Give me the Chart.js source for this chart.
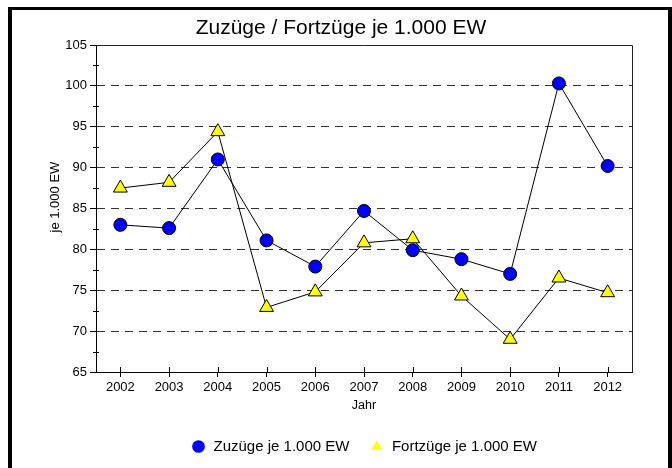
<!DOCTYPE html>
<html>
<head>
<meta charset="utf-8">
<script src="https://cdn.jsdelivr.net/npm/chart.js@4.4.1/dist/chart.umd.min.js"></script>
<style>
  html, body { margin: 0; padding: 0; background: #fff; }
  canvas { display: block; }
</style>
</head>
<body>
<canvas id="chart" width="672" height="468"></canvas>
<script>
const jahre = ['2002', '2003', '2004', '2005', '2006', '2007', '2008', '2009', '2010', '2011', '2012'];
const zuzuege = [83.0, 82.6, 91.0, 81.1, 77.9, 84.7, 79.9, 78.8, 77.0, 100.3, 90.2];
const fortzuege = [87.5, 88.2, 94.4, 72.9, 74.8, 80.8, 81.3, 74.3, 69.0, 76.5, 74.7];
const yTitel = 'je 1.000 EW';
const yMin = 65, yMax = 105, yStep = 5;

Chart.defaults.font.family = "'Liberation Sans', Arial, sans-serif";
Chart.defaults.color = '#000';

// black frame around the picture (open at the bottom)
const rahmen = {
    id: 'rahmen',
    beforeDraw(chart) {
        const c = chart.ctx;
        c.save();
        c.fillStyle = '#000';
        c.fillRect(8, 7, 4, 461);
        c.fillRect(8, 7, 664, 3);
        c.fillRect(668, 7, 4, 461);
        c.restore();
    }
};

// plot box, minor y ticks, upper half of the x ticks, y axis title
const achsen = {
    id: 'achsen',
    beforeDatasetsDraw(chart) {
        const c = chart.ctx;
        const a = chart.chartArea;
        const x = chart.scales.x, y = chart.scales.y;
        c.save();
        c.strokeStyle = '#222';
        c.lineWidth = 1;
        c.beginPath();
        c.moveTo(a.left, Math.round(a.top) + 0.5);
        c.lineTo(Math.round(a.right) + 0.5, Math.round(a.top) + 0.5);
        c.lineTo(Math.round(a.right) + 0.5, a.bottom);
        c.stroke();
        c.strokeStyle = '#000';
        c.beginPath();
        for (let v = yMin + yStep / 2; v < yMax; v += yStep) {
            const py = Math.round(y.getPixelForValue(v)) + 0.5;
            c.moveTo(a.left - 3, py);
            c.lineTo(a.left + 3, py);
        }
        jahre.forEach((j, i) => {
            const px = Math.round(x.getPixelForValue(i)) + 0.5;
            c.moveTo(px, a.bottom - 5);
            c.lineTo(px, a.bottom);
        });
        c.stroke();

        // axis title sits a little above the middle of the axis
        c.translate(y.left + 5, a.top + a.height * 0.465);
        c.rotate(-Math.PI / 2);
        c.fillStyle = '#000';
        c.font = "13px 'Liberation Sans', Arial, sans-serif";
        c.textAlign = 'center';
        c.textBaseline = 'middle';
        c.fillText(yTitel, 0, 0);
        c.restore();
    }
};

new Chart(document.getElementById('chart'), {
    type: 'line',
    data: {
        labels: jahre,
        datasets: [{
            label: 'Zuzüge je 1.000 EW',
            data: zuzuege,
            borderColor: '#000',
            borderWidth: 1,
            tension: 0,
            pointStyle: 'circle',
            pointRadius: 6.5,
            pointHoverRadius: 6.5,
            pointBackgroundColor: '#0000ff',
            pointBorderColor: '#000',
            pointBorderWidth: 1
        }, {
            label: 'Fortzüge je 1.000 EW',
            data: fortzuege,
            borderColor: '#000',
            borderWidth: 1,
            tension: 0,
            pointStyle: 'triangle',
            pointRadius: 8,
            pointHoverRadius: 8,
            pointBackgroundColor: '#ffff00',
            pointBorderColor: '#000',
            pointBorderWidth: 1
        }]
    },
    options: {
        responsive: false,
        animation: false,
        layout: {
            padding: { left: 50, right: 40, top: 0, bottom: 4 }
        },
        scales: {
            x: {
                offset: true,
                afterFit(scale) { scale.height = 47; },
                grid: {
                    offset: false,
                    drawOnChartArea: false,
                    tickLength: 5,
                    tickColor: '#000'
                },
                border: { color: '#000', width: 1 },
                ticks: {
                    padding: 3,
                    maxRotation: 0,
                    font: { size: 13 }
                },
                title: {
                    display: true,
                    text: 'Jahr',
                    font: { size: 12.5 },
                    padding: { top: 0, bottom: 5.5 }
                }
            },
            y: {
                min: yMin,
                max: yMax,
                afterFit(scale) { scale.width = 46; },
                grid: {
                    color: ctx => (ctx.tick && ctx.tick.value % yStep === 0 && ctx.tick.value > yMin && ctx.tick.value < yMax) ? '#333' : 'rgba(0,0,0,0)',
                    tickColor: ctx => (ctx.tick && ctx.tick.value % yStep === 0) ? '#000' : 'rgba(0,0,0,0)',
                    tickLength: 6,
                    lineWidth: 1
                },
                border: { color: '#000', width: 1, dash: [8, 6] },
                ticks: {
                    stepSize: yStep / 2,
                    autoSkip: false,
                    padding: 3,
                    font: { size: 13 },
                    callback: v => (v % yStep === 0 ? v : '')
                },
                title: { display: false }
            }
        },
        plugins: {
            title: {
                display: true,
                text: 'Zuzüge / Fortzüge je 1.000 EW',
                font: { size: 21, weight: 'normal' },
                padding: { top: 15.7, bottom: 4.1 }
            },
            legend: {
                position: 'bottom',
                fullSize: false,
                labels: {
                    usePointStyle: true,
                    boxHeight: 9,
                    padding: 20,
                    font: { size: 15 },
                    generateLabels(chart) {
                        const items = Chart.defaults.plugins.legend.labels.generateLabels(chart);
                        return items.map(it => Object.assign(it, { lineWidth: 0, strokeStyle: it.fillStyle }));
                    }
                }
            },
            tooltip: { enabled: false }
        }
    },
    plugins: [rahmen, achsen]
});
</script>
</body>
</html>
